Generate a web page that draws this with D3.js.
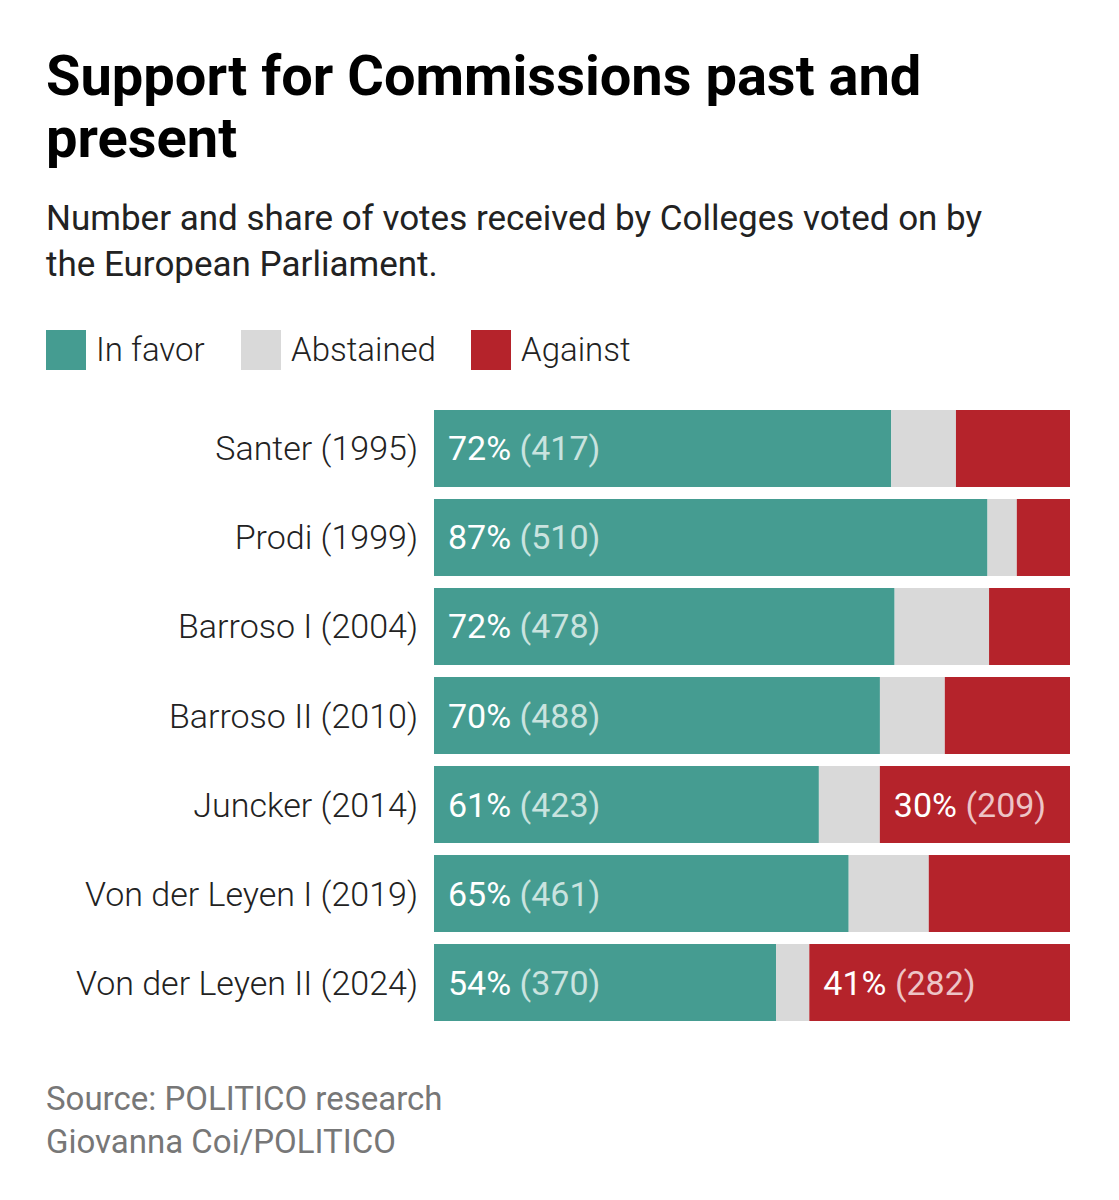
<!DOCTYPE html>
<html><head><meta charset="utf-8">
<script src="https://cdn.jsdelivr.net/npm/d3@7"></script>
<style>
body{margin:0;background:#fff;font-family:Roboto,"Noto Sans",sans-serif;}
</style></head>
<body><svg id="chart"></svg>
<script>
// values
var commissions = ["Santer (1995)", "Prodi (1999)", "Barroso I (2004)", "Barroso II (2010)",
                   "Juncker (2014)", "Von der Leyen I (2019)", "Von der Leyen II (2024)"];
var inFavor   = [417, 510, 478, 488, 423, 461, 370];
var abstained = [59, 27, 98, 71, 67, 89, 36];
var against   = [104, 49, 84, 137, 209, 157, 282];
var seriesNames = ["In favor", "Abstained", "Against"];
var colors = ["#459c91", "#d9d9d9", "#b5232b"];

var svg = d3.select("#chart").attr("width", 1119).attr("height", 1200);

svg.append("text").attr("x", 46).attr("y", 95).attr("font-size", 56).attr("font-weight", 700)
   .text("Support for Commissions past and");
svg.append("text").attr("x", 46).attr("y", 157).attr("font-size", 56).attr("font-weight", 700)
   .text("present");
svg.append("text").attr("x", 46).attr("y", 230).attr("font-size", 35).attr("fill", "#222")
   .text("Number and share of votes received by Colleges voted on by");
svg.append("text").attr("x", 46).attr("y", 276).attr("font-size", 35).attr("fill", "#222")
   .text("the European Parliament.");

// legend
var lx = [46, 241, 471];
seriesNames.forEach(function(n, i) {
    svg.append("rect").attr("x", lx[i]).attr("y", 330).attr("width", 40).attr("height", 40).attr("fill", colors[i]);
    svg.append("text").attr("x", lx[i] + 50).attr("y", 361).attr("font-size", 33).attr("font-weight", 300)
       .attr("fill", "#222").text(n);
});

var rows = commissions.map(function(c, i) {
    var t = inFavor[i] + abstained[i] + against[i];
    return {name: c, total: t, vals: [inFavor[i], abstained[i], against[i]]};
});

var x = d3.scaleLinear().domain([0, 1]).range([434, 1070]);
var y = d3.scaleBand().domain(commissions).range([410, 1021]).paddingInner(0.135).paddingOuter(0);

var g = svg.selectAll("g.row").data(rows).enter().append("g").attr("class", "row");

g.append("text").attr("x", 418).attr("y", function(d) { return y(d.name) + y.bandwidth() / 2 + 12; })
 .attr("text-anchor", "end").attr("font-size", 34).attr("font-weight", 300).attr("fill", "#222")
 .text(function(d) { return d.name; });

g.each(function(d) {
    var sel = d3.select(this), cum = 0;
    d.vals.forEach(function(v, i) {
        var s = v / d.total, x0 = x(cum), x1 = x(cum + s);
        sel.append("rect").attr("x", x0).attr("y", y(d.name)).attr("width", x1 - x0)
           .attr("height", y.bandwidth()).attr("fill", colors[i]);
        if (i === 0 || (i === 2 && s >= 0.25)) {
            var t = sel.append("text").attr("x", x0 + 14).attr("y", y(d.name) + y.bandwidth() / 2 + 12)
               .attr("font-size", 34).attr("fill", "#fff");
            t.append("tspan").text(Math.round(s * 100) + "% ");
            t.append("tspan").attr("fill", i === 0 ? "#c9e3df" : "#edc4c6").text("(" + v + ")");
        }
        cum += s;
    });
});

svg.append("text").attr("x", 46).attr("y", 1110).attr("font-size", 33).attr("fill", "#777")
   .text("Source: POLITICO research");
svg.append("text").attr("x", 46).attr("y", 1153).attr("font-size", 33).attr("fill", "#777")
   .text("Giovanna Coi/POLITICO");
</script></body></html>
